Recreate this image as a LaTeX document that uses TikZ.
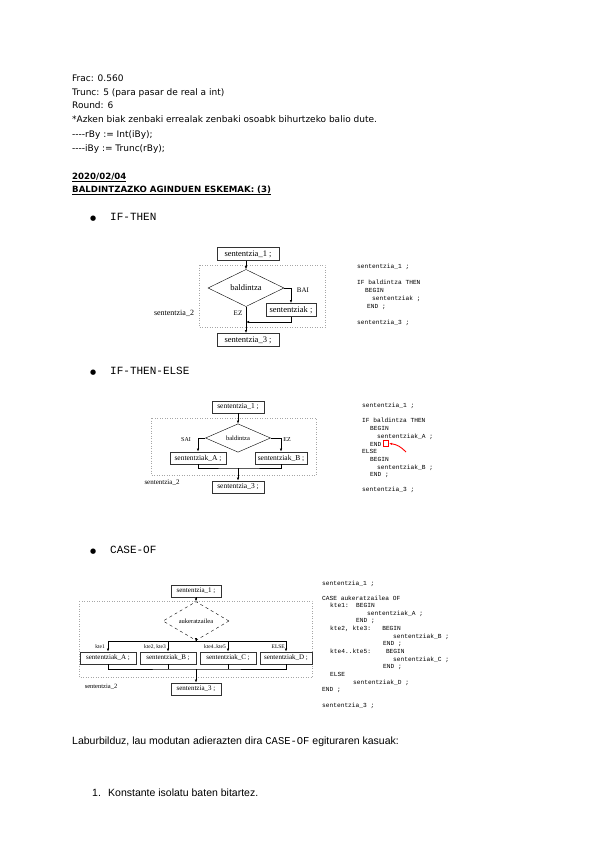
\documentclass[tikz,border=0pt]{standalone}
\usepackage{fontspec}
\setmainfont{DejaVu Sans}
\newfontfamily\diagfont{Liberation Serif}
\newfontfamily\codefont{Liberation Mono}
\newfontfamily\arialfont{Liberation Sans}
\usetikzlibrary{shapes.geometric,arrows.meta}

\begin{document}
\begin{tikzpicture}[
  x=1pt, y=-1pt,
  >={Latex[length=3pt,width=2.4pt]},
  txt/.style={anchor=base west, inner sep=0pt, font=\fontsize{9}{11}\selectfont},
  head/.style={anchor=base west, inner sep=0pt, font=\bfseries\fontsize{8.6}{10}\selectfont},
  bullet/.style={anchor=base west, inner sep=0pt, font=\codefont\fontsize{11}{12}\selectfont},
  codeline/.style={anchor=base west, inner sep=0pt, font=\codefont\fontsize{6.2}{7}\selectfont},
  stmt/.style={draw=black!80, line width=0.9pt, minimum height=13pt, minimum width=58pt, inner sep=1pt, font=\diagfont\fontsize{8.5}{9}\selectfont},
  cond/.style={diamond, draw, inner sep=0pt, minimum width=76pt, minimum height=28pt, font=\diagfont\fontsize{8.5}{9}\selectfont},
  lbl/.style={inner sep=0pt, font=\diagfont\fontsize{7}{8}\selectfont},
  area/.style={draw=gray!70, dotted, line width=0.5pt},
  arr/.style={->, line width=0.5pt}
]
\fill[white] (0,0) rectangle (600,848);
\useasboundingbox (0,0) rectangle (600,848);

% notes at the top
\node[txt] (frac) at (72,82) {Frac: 0.560};
\node[txt] (trunc) at (72,96) {Trunc: 5 (para pasar de real a int)};
\node[txt] (round) at (72,109) {Round: 6};
\node[txt] (azken) at (72,123) {*Azken biak zenbaki errealak zenbaki osoabk bihurtzeko balio dute.};
\node[txt] (rby) at (72,137) {-{}-{}-{}-rBy := Int(iBy);};
\node[txt] (iby) at (72,151) {-{}-{}-{}-iBy := Trunc(rBy);};
\node[head] (date) at (72,179) {\underline{2020/02/04}};
\node[head] (title) at (72,192) {\underline{BALDINTZAZKO AGINDUEN ESKEMAK: (3)}};

% IF-THEN
\node[bullet] (b1) at (90,220) {{\fontspec{DejaVu Sans}\fontsize{7}{8}\selectfont ●}};
\node[bullet] (ifthen) at (110,220) {IF-THEN};

\draw[area] (199,265) rectangle (325,327);
\node[stmt, minimum width=62pt] (s1) at (248,254) {sententzia\_1 ;};
\node[cond] (dia) at (246,288) {baldintza};
\node[stmt, minimum width=50pt] (sak) at (291,310) {sententziak ;};
\node[stmt, minimum width=62pt] (s3) at (248,340) {sententzia\_3 ;};
\coordinate (j1) at (246,322);
\node[lbl] (bai) at (303,290) {BAI};
\node[lbl] (ez) at (238,313) {EZ};
\node[lbl, font=\diagfont\fontsize{8}{9}\selectfont] (s2) at (174,313) {sententzia\_2};

\draw[arr] (s1.south -| dia.north) -- (dia.north);
\draw[arr] (dia.east) -| (sak.north);
\draw[arr] (dia.south) -- (s3.north -| dia.south);
\draw[arr] (sak.south) |- (j1);

\node[codeline] (c1) at (357,268) {sententzia\_1 ;};
\node[codeline] (c2) at (357,284) {IF baldintza THEN};
\node[codeline] (c3) at (365,292) {BEGIN};
\node[codeline] (c4) at (372,300) {sententziak ;};
\node[codeline] (c5) at (367,308) {END ;};
\node[codeline] (c6) at (357,324) {sententzia\_3 ;};

% IF-THEN-ELSE
\node[bullet] (b2) at (90,374) {{\fontspec{DejaVu Sans}\fontsize{7}{8}\selectfont ●}};
\node[bullet] (ifelse) at (110,374) {IF-THEN-ELSE};

\draw[area] (151,418) rectangle (316,475);
\node[stmt, minimum width=52pt, minimum height=12pt, font=\diagfont\fontsize{7.5}{8}\selectfont] (es1) at (238,407) {sententzia\_1 ;};
\node[cond, minimum width=65pt, minimum height=27pt, font=\diagfont\fontsize{6.5}{8}\selectfont] (edia) at (238,438) {baldintza};
\node[stmt, minimum width=56pt, minimum height=12pt, font=\diagfont\fontsize{7.5}{8}\selectfont] (eA) at (198,458) {sententziak\_A ;};
\node[stmt, minimum width=52pt, minimum height=12pt, font=\diagfont\fontsize{7.5}{8}\selectfont] (eB) at (281,458) {sententziak\_B ;};
\node[stmt, minimum width=52pt, minimum height=12pt, font=\diagfont\fontsize{7.5}{8}\selectfont] (es3) at (238,487) {sententzia\_3 ;};
\coordinate (j2) at (238,468);
\node[lbl, font=\diagfont\fontsize{6}{7}\selectfont] (sai) at (186,440) {SAI};
\node[lbl, font=\diagfont\fontsize{6}{7}\selectfont] (eez) at (287,440) {EZ};
\node[lbl] (es2) at (162,483) {sententzia\_2};

\draw[arr] (es1.south) -- (edia.north);
\draw[arr] (edia.west) -| (eA.north);
\draw[arr] (edia.east) -| (eB.north);
\draw (eA.south) |- (j2) -| (eB.south);
\draw[arr] (j2) -- (es3.north);

\node[codeline] (e1) at (362,407) {sententzia\_1 ;};
\node[codeline] (e2) at (362,422) {IF baldintza THEN};
\node[codeline] (e3) at (370,430) {BEGIN};
\node[codeline] (e4) at (377,438) {sententziak\_A ;};
\node[codeline] (e5) at (370,446) {END};
\node[codeline] (e6) at (362,453) {ELSE};
\node[codeline] (e7) at (370,461) {BEGIN};
\node[codeline] (e8) at (377,469) {sententziak\_B ;};
\node[codeline] (e9) at (370,476) {END ;};
\node[codeline] (e10) at (362,491) {sententzia\_3 ;};
\node[draw=red, line width=0.7pt, minimum size=5.5pt, inner sep=0pt] (mark) at (386,443.5) {};
\coordinate (markfrom) at (406,452);
\draw[->, red, line width=0.9pt] (markfrom) to[bend right=20] (mark.east);

% CASE-OF
\node[bullet] (b3) at (90,553) {{\fontspec{DejaVu Sans}\fontsize{7}{8}\selectfont ●}};
\node[bullet] (caseof) at (110,553) {CASE-OF};

\draw[area] (79,601) rectangle (312,677);
\node[stmt, minimum width=50pt, minimum height=12pt, font=\diagfont\fontsize{7}{8}\selectfont] (cs1) at (196,591) {sententzia\_1 ;};
\node[cond, dashed, minimum width=66pt, minimum height=27pt, font=\diagfont\fontsize{6.5}{7}\selectfont] (cdia) at (196,621) {aukeratzailea};
\node[stmt, minimum width=56pt, minimum height=12pt, font=\diagfont\fontsize{7}{8}\selectfont] (cA) at (108,658) {sententziak\_A ;};
\node[stmt, minimum width=56pt, minimum height=12pt, font=\diagfont\fontsize{7}{8}\selectfont] (cB) at (168,658) {sententziak\_B ;};
\node[stmt, minimum width=56pt, minimum height=12pt, font=\diagfont\fontsize{7}{8}\selectfont] (cC) at (228,658) {sententziak\_C ;};
\node[stmt, minimum width=52pt, minimum height=12pt, font=\diagfont\fontsize{7}{8}\selectfont] (cD) at (286,658) {sententziak\_D ;};
\node[stmt, minimum width=50pt, minimum height=12pt, font=\diagfont\fontsize{7}{8}\selectfont] (cs3) at (196,689) {sententzia\_3 ;};
\coordinate (cbar) at (196,641);
\coordinate (cjoin) at (196,669);
\node[lbl, anchor=base east, font=\diagfont\fontsize{5.5}{6}\selectfont] (k1) at (105,648) {kte1};
\node[lbl, anchor=base east, font=\diagfont\fontsize{5.5}{6}\selectfont] (k2) at (166,648) {kte2, kte3};
\node[lbl, anchor=base east, font=\diagfont\fontsize{5.5}{6}\selectfont] (k3) at (226,648) {kte4..kte5};
\node[lbl, anchor=base east, font=\diagfont\fontsize{5.5}{6}\selectfont] (k4) at (285,648) {ELSE};
\node[lbl, font=\diagfont\fontsize{6.5}{7}\selectfont] (cs2) at (101,687) {sententzia\_2};

\draw[arr] (cs1.south) -- (cdia.north);
\draw[arr] (cdia.south) -- (cbar);
\draw (cA.north |- cbar) -- (cD.north |- cbar);
\foreach \b in {cA,cB,cC,cD}
  \draw[arr] (\b.north |- cbar) -- (\b.north);
\draw (cA.south) |- (cjoin) -| (cD.south);
\draw (cB.south) -- (cB.south |- cjoin);
\draw (cC.south) -- (cC.south |- cjoin);
\draw[arr] (cjoin) -- (cs3.north);

\foreach \x/\y/\t [count=\i] in {
  322/585/{sententzia\_1 ;},
  322/600/{CASE aukeratzailea OF},
  330/607/{kte1:\ \ BEGIN},
  367/615/{sententziak\_A ;},
  356/622/{END ;},
  330/630/{kte2, kte3:\ \ \ BEGIN},
  393/638/{sententziak\_B ;},
  383/645/{END ;},
  330/653/{kte4..kte5:\ \ \ \ BEGIN},
  393/661/{sententziak\_C ;},
  383/668/{END ;},
  330/676/{ELSE},
  353/684/{sententziak\_D ;},
  322/691/{END ;},
  322/707/{sententzia\_3 ;}}
  \node[codeline] (k\i) at (\x,\y) {\t};

% closing text
\node[txt, font=\arialfont\fontsize{10.5}{12}\selectfont] (labur) at (72,744) {Laburbilduz, lau modutan adierazten dira {\codefont CASE-OF} egituraren kasuak:};
\node[txt, font=\arialfont\fontsize{10.5}{12}\selectfont] (n1) at (92,796) {1.};
\node[txt, font=\arialfont\fontsize{10.5}{12}\selectfont] (konst) at (108,796) {Konstante isolatu baten bitartez.};
\end{tikzpicture}
\end{document}
